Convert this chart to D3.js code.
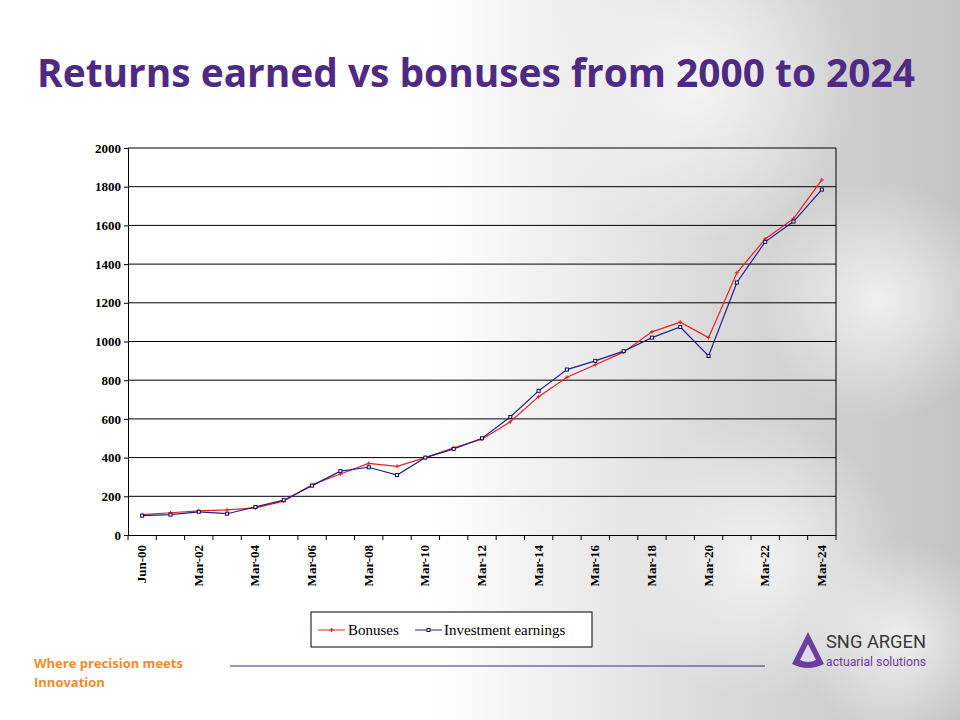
<!DOCTYPE html>
<html><head><meta charset="utf-8">
<script src="https://cdn.jsdelivr.net/npm/d3@7"></script>
<style>body{margin:0}svg{display:block}</style></head>
<body><script>
const categories=["Jun-00","Mar-01","Mar-02","Mar-03","Mar-04","Mar-05","Mar-06","Mar-07","Mar-08","Mar-09","Mar-10","Mar-11","Mar-12","Mar-13","Mar-14","Mar-15","Mar-16","Mar-17","Mar-18","Mar-19","Mar-20","Mar-21","Mar-22","Mar-23","Mar-24"];
const bonuses=[105,115,125,130,140,175,260,315,370,355,400,450,495,585,715,815,880,945,1050,1100,1020,1355,1530,1635,1835];
const investment=[100,105,120,110,145,180,255,330,350,310,400,445,500,610,745,855,900,950,1020,1075,925,1305,1515,1620,1785];
const yTicks=[0,200,400,600,800,1000,1200,1400,1600,1800,2000];

const svg=d3.select("body").append("svg").attr("width",960).attr("height",720);
const defs=svg.append("defs");
const g1=defs.append("linearGradient").attr("id","bg").attr("x1",0).attr("x2",1);
g1.append("stop").attr("offset",0.45).attr("stop-color","#fff");
g1.append("stop").attr("offset",0.75).attr("stop-color","#d9d9d9");
g1.append("stop").attr("offset",1).attr("stop-color","#c4c4c4");
svg.append("rect").attr("width",960).attr("height",720).attr("fill","url(#bg)");
const g2=defs.append("radialGradient").attr("id","blob");
g2.append("stop").attr("offset",0).attr("stop-color","#fff").attr("stop-opacity",0.7);
g2.append("stop").attr("offset",1).attr("stop-color","#fff").attr("stop-opacity",0);
[[700,80,160],[880,300,120],[760,560,140],[900,640,100]].forEach(([cx,cy,r])=>svg.append("circle").attr("cx",cx).attr("cy",cy).attr("r",r).attr("fill","url(#blob)"));

svg.append("text").attr("x",476).attr("y",87).attr("text-anchor","middle")
 .attr("font-family","Open Sans").attr("font-weight","bold").attr("font-size",39)
 .attr("fill","#4e2a84").attr("textLength",878).attr("lengthAdjust","spacingAndGlyphs").text("Returns earned vs bonuses from 2000 to 2024");

const L=128,R=836,T=148,B=535;
const x=d3.scalePoint().domain(categories).range([L,R]).padding(0.5);
const y=d3.scaleLinear().domain([0,2000]).range([B,T]);
const step=x.step();
const g=svg.append("g");
g.selectAll(".gl").data(yTicks.slice(1)).join("line").attr("x1",L).attr("x2",R)
 .attr("y1",d=>y(d)).attr("y2",d=>y(d)).attr("stroke","#000").attr("stroke-width",1);
g.append("line").attr("x1",R).attr("x2",R).attr("y1",T).attr("y2",B).attr("stroke","#000");
const ya=g.append("g").attr("transform",`translate(${L},0)`).call(d3.axisLeft(y).tickValues(yTicks).tickSize(4).tickFormat(d3.format("d")));
ya.selectAll("text").attr("font-family","Liberation Serif").attr("font-size",13).attr("font-weight","bold").attr("fill","#000");
const xa=g.append("g").attr("transform",`translate(0,${B})`).call(d3.axisBottom(x).tickSize(0).tickFormat(""));
xa.selectAll("line").remove();
g.selectAll(".xt").data(d3.range(categories.length+1)).join("line")
 .attr("x1",i=>L+i*step).attr("x2",i=>L+i*step).attr("y1",B).attr("y2",B+5).attr("stroke","#000");
g.selectAll(".xl").data(categories.filter((d,i)=>i%2==0)).join("text")
 .attr("transform",d=>`translate(${x(d)+4},${B+10}) rotate(-90)`).attr("text-anchor","end")
 .attr("font-family","Liberation Serif").attr("font-size",13).attr("font-weight","bold").text(d=>d);

const line=d3.line().x((d,i)=>x(categories[i])).y(d=>y(d));
g.append("path").datum(bonuses).attr("d",line).attr("fill","none").attr("stroke","#e8201e").attr("stroke-width",1.2);
g.append("path").datum(investment).attr("d",line).attr("fill","none").attr("stroke","#1f1f8f").attr("stroke-width",1.2);
g.selectAll(".bm").data(bonuses).join("path").attr("d",(d,i)=>{const cx=x(categories[i]),cy=y(d);return `M${cx-2},${cy}H${cx+2}M${cx},${cy-2}V${cy+2}`}).attr("stroke","#e8201e");
g.selectAll(".im").data(investment).join("rect").attr("x",(d,i)=>x(categories[i])-1.5).attr("y",d=>y(d)-1.5).attr("width",3).attr("height",3).attr("fill","#fff").attr("stroke","#0a0a5a").attr("stroke-width",1);

const lg=svg.append("g");
lg.append("rect").attr("x",311).attr("y",612).attr("width",281).attr("height",35).attr("fill","#fff").attr("stroke","#000");
lg.append("line").attr("x1",318).attr("x2",345).attr("y1",630).attr("y2",630).attr("stroke","#e8201e");
lg.append("path").attr("d","M329.5,630H333.5M331.5,628V632").attr("stroke","#e8201e");
lg.append("text").attr("x",348).attr("y",635).attr("font-family","Liberation Serif").attr("font-size",15).text("Bonuses");
lg.append("line").attr("x1",415).attr("x2",442).attr("y1",630).attr("y2",630).attr("stroke","#1f1f8f");
lg.append("rect").attr("x",427).attr("y",628.5).attr("width",3).attr("height",3).attr("fill","#fff").attr("stroke","#0a0a5a");
lg.append("text").attr("x",444).attr("y",635).attr("font-family","Liberation Serif").attr("font-size",15).text("Investment earnings");

svg.append("text").attr("x",34).attr("y",668).attr("font-family","Open Sans").attr("font-weight","bold").attr("font-size",13).attr("fill","#f08a2c").text("Where precision meets");
svg.append("text").attr("x",34).attr("y",687).attr("font-family","Open Sans").attr("font-weight","bold").attr("font-size",13).attr("fill","#f08a2c").text("Innovation");
svg.append("line").attr("x1",230).attr("x2",765).attr("y1",666).attr("y2",666).attr("stroke","#3e2a74").attr("stroke-width",1.2);
svg.append("path").attr("d","M808,632 L792,664 Q808,672 824,664 Z").attr("fill","#6b3fa0");
svg.append("path").attr("d","M808,644 L800,660 Q808,664 816,660 Z").attr("fill","#fff").attr("opacity",0.8);
svg.append("text").attr("x",826).attr("y",648).attr("font-family","Roboto").attr("font-size",19).attr("fill","#3a3a3a").attr("textLength",100).attr("lengthAdjust","spacingAndGlyphs").text("SNG ARGEN");
svg.append("text").attr("x",826).attr("y",666).attr("font-family","Roboto").attr("font-size",13).attr("fill","#6b3fa0").attr("textLength",100).attr("lengthAdjust","spacingAndGlyphs").text("actuarial solutions");
</script></body></html>
